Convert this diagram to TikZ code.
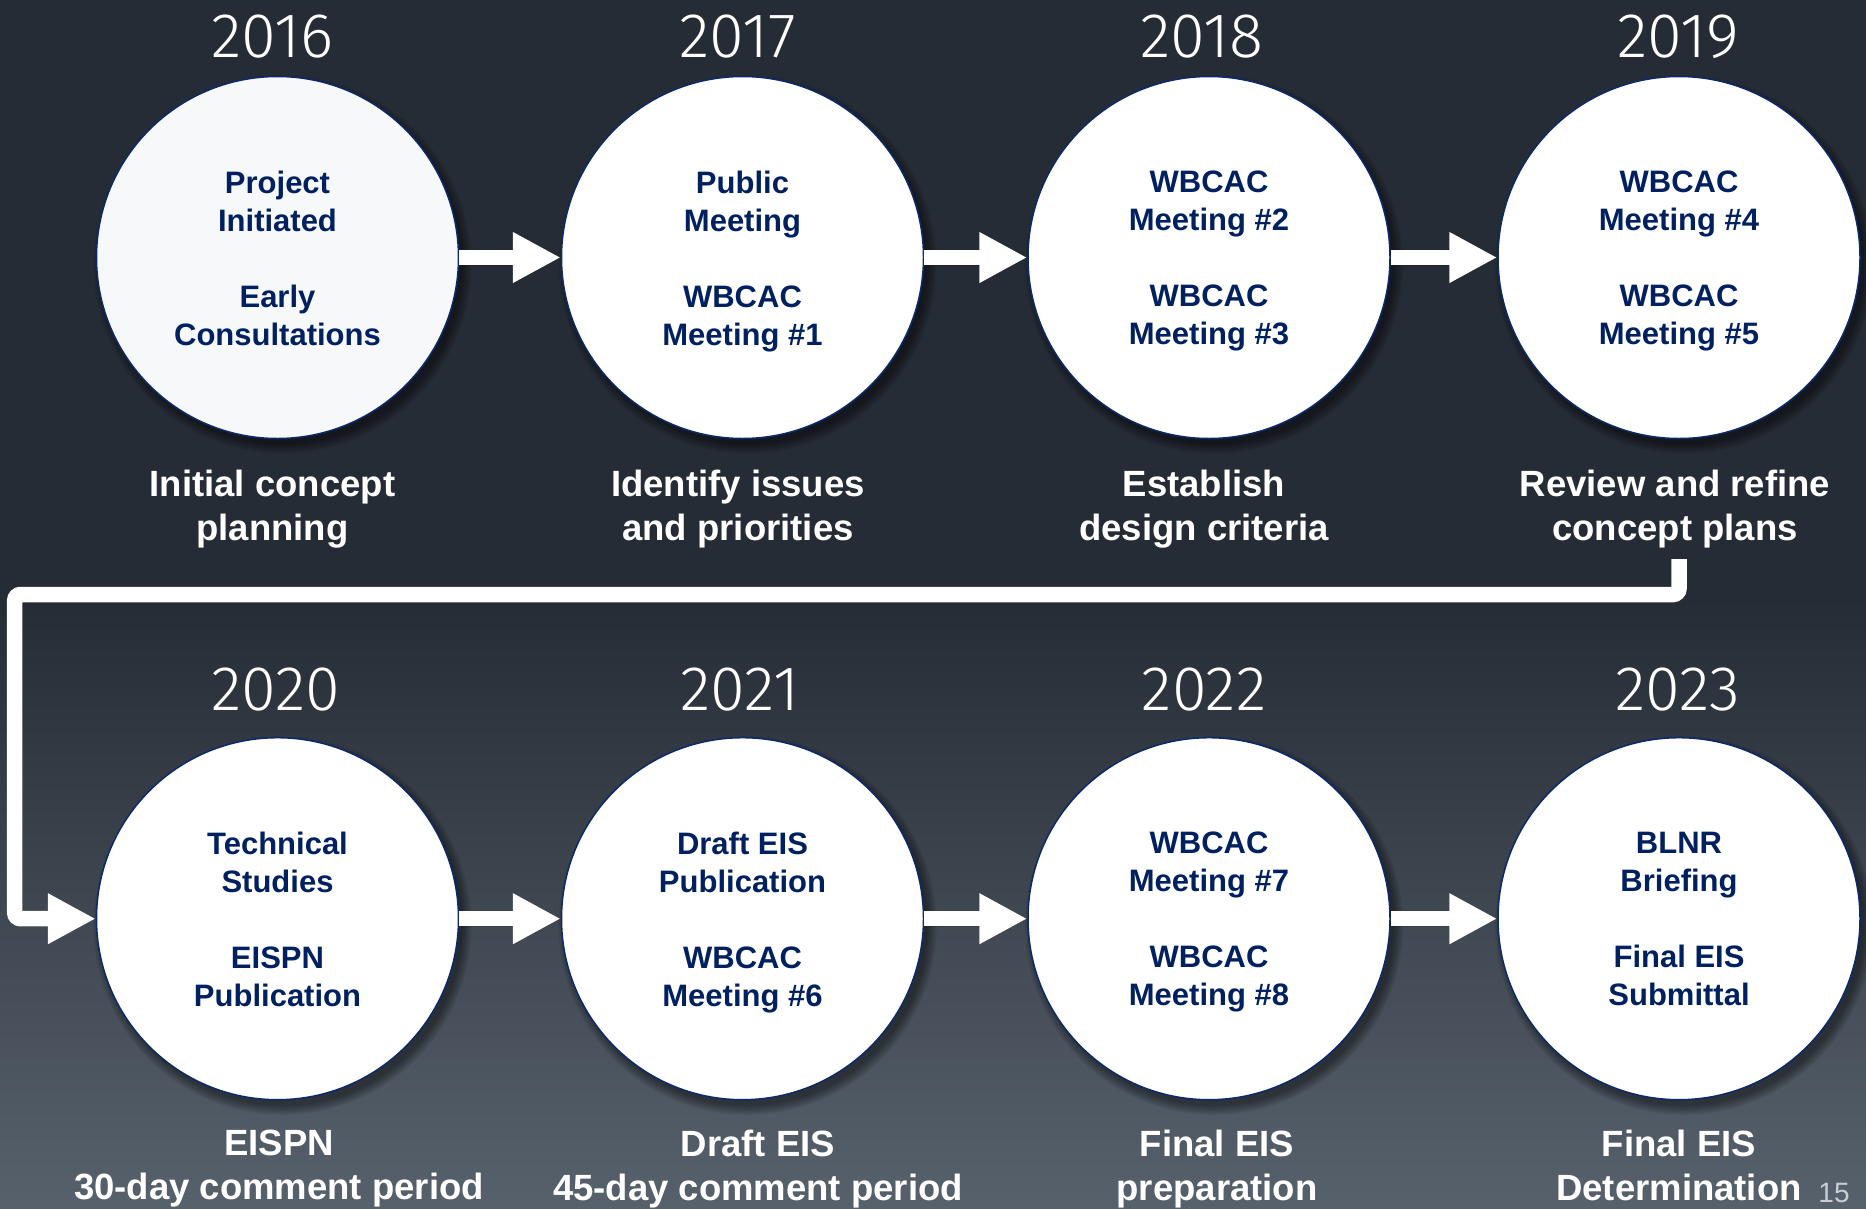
\documentclass[tikz,border=0pt]{standalone}
\usepackage{fontspec}
\setmainfont{Liberation Sans}
\newfontfamily\yearfont{Fira Sans}[UprightFont={* Light}]
\usetikzlibrary{arrows.meta}

\definecolor{bgtop}{HTML}{262C35}
\definecolor{bgbot}{HTML}{57616C}
\definecolor{navy}{HTML}{002060}
\definecolor{ringnavy}{HTML}{0B2A6B}
\definecolor{offwhite}{HTML}{F7F8F9}
\definecolor{pagegrey}{HTML}{C9CED3}

\begin{document}
\begin{tikzpicture}[x=1pt,y=-1pt,
  stage/.style={circle, minimum size=362pt, inner sep=0pt, fill=white,
                draw=ringnavy, line width=1.5pt},
  stagetext/.style={anchor=north, inner sep=0pt, align=center, text=navy,
                font=\bfseries\fontsize{31}{38}\selectfont},
  yearlabel/.style={anchor=base, inner sep=0pt, text=white,
                font=\yearfont\fontsize{63}{63}\selectfont},
  phase/.style={anchor=north, inner sep=0pt, align=center, text=white,
                font=\bfseries\fontsize{36.5}{43.5}\selectfont},
  flow/.style={draw=white, line width=15.5pt,
               -{Triangle[length=48pt,width=47.5pt]}},
  flowshadow/.style={draw=black, line width=15.5pt,
               -{Triangle[length=48pt,width=47.5pt]}},
]
\useasboundingbox (0,0) rectangle (1866,1208);

% background: dark slate, brightening towards the bottom
\fill[bgtop] (0,0) rectangle (1866,600);
\shade[top color=bgtop, bottom color=bgbot] (0,599) rectangle (1866,1208);

% soft shadows under the stage circles
\foreach \cx/\cy in {277.5/257.5, 742.5/257.5, 1209/257.5, 1679/257.5,
                     277.5/918.7, 742.5/918.7, 1209/918.7, 1679/918.7}{
  \foreach \k in {0,...,7}{
    \fill[black, opacity=0.06] (\cx+5,\cy+7) circle (180+1.3*\k);
  }
}

% stage circles
\node[stage, fill=offwhite] (s1) at (277.5,257.5) {};
\node[stage] (s2) at (742.5,257.5) {};
\node[stage] (s3) at (1209,257.5) {};
\node[stage] (s4) at (1679,257.5) {};
\node[stage] (s5) at (277.5,918.7) {};
\node[stage] (s6) at (742.5,918.7) {};
\node[stage] (s7) at (1209,918.7) {};
\node[stage] (s8) at (1679,918.7) {};

% milestones inside the circles
\node[stagetext] (t1) at (277.5,170.5) {Project\\Initiated\\[38pt]Early\\Consultations};
\node[stagetext] (t2) at (742.5,170.5) {Public\\Meeting\\[38pt]WBCAC\\Meeting \#1};
\node[stagetext] (t3) at (1209,170.5) {WBCAC\\Meeting \#2\\[38pt]WBCAC\\Meeting \#3};
\node[stagetext] (t4) at (1679,170.5) {WBCAC\\Meeting \#4\\[38pt]WBCAC\\Meeting \#5};
\node[stagetext] (t5) at (277.5,831.7) {Technical\\Studies\\[38pt]EISPN\\Publication};
\node[stagetext] (t6) at (742.5,831.7) {Draft EIS\\Publication\\[38pt]WBCAC\\Meeting \#6};
\node[stagetext] (t7) at (1209,831.7) {WBCAC\\Meeting \#7\\[38pt]WBCAC\\Meeting \#8};
\node[stagetext] (t8) at (1679,831.7) {BLNR\\Briefing\\[38pt]Final EIS\\Submittal};

% years
\node[yearlabel] (y1) at (272.5,57) {2016};
\node[yearlabel] (y2) at (738,57) {2017};
\node[yearlabel] (y3) at (1202,57) {2018};
\node[yearlabel] (y4) at (1678,57) {2019};
\node[yearlabel] (y5) at (276,710) {2020};
\node[yearlabel] (y6) at (740,710) {2021};
\node[yearlabel] (y7) at (1204,710) {2022};
\node[yearlabel] (y8) at (1678,710) {2023};

% phase descriptions
\node[phase] (p1) at (272.5,470) {Initial concept\\planning};
\node[phase] (p2) at (738,470) {Identify issues\\and priorities};
\node[phase] (p3) at (1204,470) {Establish\\design criteria};
\node[phase] (p4) at (1675,470) {Review and refine\\concept plans};
\node[phase] (p5) at (279,1130) {EISPN\\30-day comment period};
\node[phase] (p6) at (758,1130) {Draft EIS\\45-day comment period};
\node[phase] (p7) at (1217,1130) {Final EIS\\preparation};
\node[phase] (p8) at (1679,1130) {Final EIS\\Determination};

% return path from the first row to the second
\coordinate (loopstart) at (1679,559);
\coordinate (loopleft) at (14.7,594.5);

% arrow shadows
\begin{scope}[transparency group, opacity=0.35, shift={(3,4)}]
  \draw[flowshadow] (s1.east) -- (s2.west);
  \draw[flowshadow] (s2.east) -- (s3.west);
  \draw[flowshadow] (s3.east) -- (s4.west);
  \draw[flowshadow] (s5.east) -- (s6.west);
  \draw[flowshadow] (s6.east) -- (s7.west);
  \draw[flowshadow] (s7.east) -- (s8.west);
  \draw[flowshadow, rounded corners=6pt] (loopstart) |- (loopleft) |- (s5.west);
\end{scope}

% arrows
\draw[flow] (s1.east) -- (s2.west);
\draw[flow] (s2.east) -- (s3.west);
\draw[flow] (s3.east) -- (s4.west);
\draw[flow] (s5.east) -- (s6.west);
\draw[flow] (s6.east) -- (s7.west);
\draw[flow] (s7.east) -- (s8.west);
\draw[flow, rounded corners=6pt] (loopstart) |- (loopleft) |- (s5.west);

% slide number
\node[anchor=base, inner sep=0pt, text=pagegrey, font=\fontsize{28}{28}\selectfont]
  (pg) at (1834,1202) {15};
\end{tikzpicture}
\end{document}
